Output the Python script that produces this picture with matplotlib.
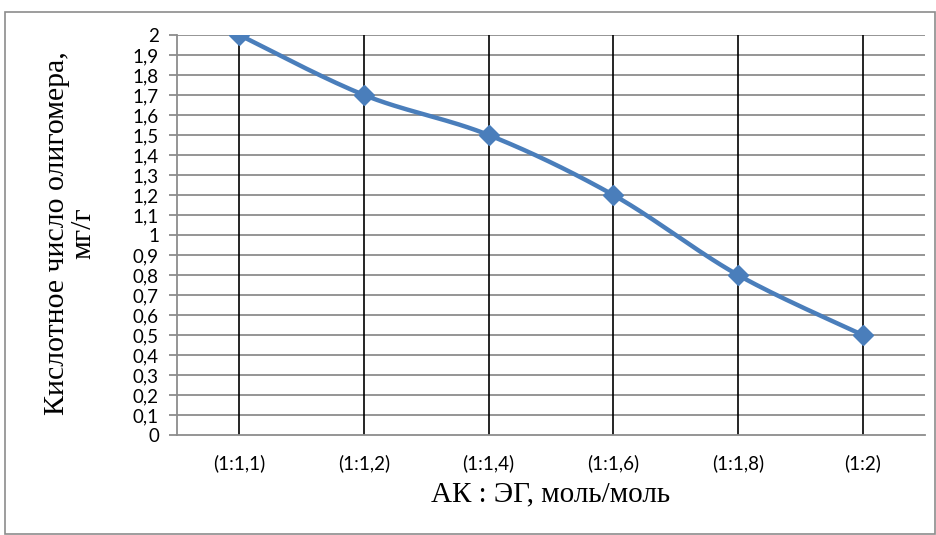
import numpy as np
import matplotlib.pyplot as plt
from matplotlib.patches import Rectangle

# Datos
categorias = ["(1:1,1)", "(1:1,2)", "(1:1,4)", "(1:1,6)", "(1:1,8)", "(1:2)"]
kislotnoe_chislo = [2.0, 1.7, 1.5, 1.2, 0.8, 0.5]
y_ticks = np.round(np.arange(0, 2.01, 0.1), 1)


def curva_suave(x, y, n=30):
    """Curva tipo Excel (Bezier con puntos de control Catmull-Rom)."""
    x = np.asarray(x, float)
    y = np.asarray(y, float)
    px = np.concatenate([[x[0]], x, [x[-1]]])
    py = np.concatenate([[y[0]], y, [y[-1]]])
    xs, ys = [], []
    t = np.linspace(0, 1, n)
    for i in range(1, len(px) - 2):
        p0 = np.array([px[i], py[i]])
        p3 = np.array([px[i + 1], py[i + 1]])
        c1 = p0 + (np.array([px[i + 1], py[i + 1]]) - np.array([px[i - 1], py[i - 1]])) / 6
        c2 = p3 - (np.array([px[i + 2], py[i + 2]]) - np.array([px[i], py[i]])) / 6
        b = ((1 - t) ** 3)[:, None] * p0 + (3 * (1 - t) ** 2 * t)[:, None] * c1 \
            + (3 * (1 - t) * t ** 2)[:, None] * c2 + (t ** 3)[:, None] * p3
        xs.extend(b[:, 0])
        ys.extend(b[:, 1])
    return np.array(xs), np.array(ys)


fig = plt.figure(figsize=(9.37, 5.35), dpi=100)
ax = fig.add_axes([0.1889, 0.1869, 0.7983, 0.7477])

x = np.arange(len(categorias))
xs, ys = curva_suave(x, kislotnoe_chislo)

# Rejilla
for yt in y_ticks[1:]:
    ax.axhline(yt, color="#8c8c8c", linewidth=1.3, zorder=1)
for xi in x:
    ax.axvline(xi, color="black", linewidth=1.2, zorder=2)

ax.plot(xs, ys, color="#4a7ebb", linewidth=3.2, zorder=3, solid_capstyle="round")
ax.plot(x, kislotnoe_chislo, linestyle="none", marker="D", markersize=10,
        color="#4a7ebb", zorder=4)

ax.set_xlim(-0.5, len(categorias) - 0.5)
ax.set_ylim(0, 2)
ax.set_xticks(x)
ax.set_xticklabels(categorias, fontsize=13.5, family="Lato")
ax.set_yticks(y_ticks)
ax.set_yticklabels([f"{v:g}".replace(".", ",") for v in y_ticks],
                   fontsize=13.5, family="Lato")
ax.tick_params(axis="x", length=0, pad=14)
ax.tick_params(axis="y", length=6, color="#8c8c8c", width=1.3, pad=7)

for lado in ["top", "right"]:
    ax.spines[lado].set_visible(False)
ax.spines["left"].set_color("#8c8c8c")
ax.spines["left"].set_linewidth(1.3)
ax.spines["bottom"].set_color("#8c8c8c")
ax.spines["bottom"].set_linewidth(1.3)

fig.text(0.5875, 0.075, "АК : ЭГ, моль/моль", ha="center", va="center",
         fontsize=21, family="Liberation Serif")
fig.text(0.075, 0.564, "Кислотное число олигомера,\nмг/г", ha="center", va="center",
         rotation=90, fontsize=21.5, family="Liberation Serif", linespacing=1.0)

# Marco del grafico
fig.patches.append(Rectangle((5 / 937, 0.002), 930 / 937, 1 - 12 / 535 - 0.002,
                             transform=fig.transFigure, fill=False,
                             edgecolor="#8c8c8c", linewidth=1.2))

plt.savefig("out.png", dpi=100)
plt.close()
